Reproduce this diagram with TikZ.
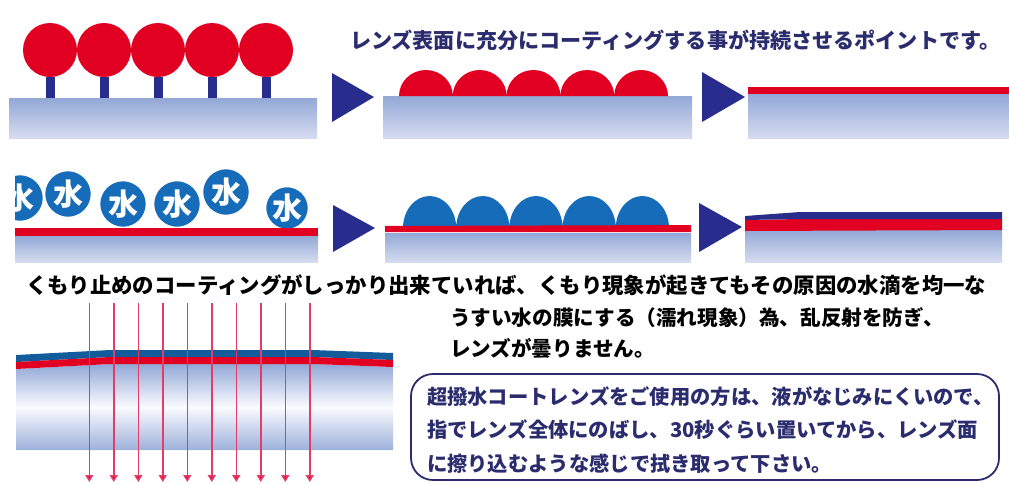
\documentclass[tikz,border=0pt]{standalone}
\usepackage{fontspec}
\setmainfont{Noto Sans CJK JP}
\usepackage{tikz}
\usetikzlibrary{arrows.meta,positioning,calc}
\definecolor{coatred}{RGB}{226,0,34}
\definecolor{coatnavy}{RGB}{40,44,140}
\definecolor{waterblue}{RGB}{22,108,184}
\definecolor{lenstop}{RGB}{146,168,214}
\definecolor{lensbottom}{RGB}{214,220,240}
\definecolor{lensmid}{RGB}{250,251,255}
\definecolor{textnavy}{RGB}{42,44,110}
\definecolor{raypink}{RGB}{228,60,105}

\begin{document}
\begin{tikzpicture}[
  x=1pt, y=1pt,
  every node/.style={inner sep=0pt, outer sep=0pt},
  slab/.style={rectangle, top color=lenstop, bottom color=lensbottom, anchor=north west},
  drop/.style={circle, fill=coatred, minimum size=54pt},
  water/.style={circle, fill=waterblue, draw=white, line width=1.5pt, minimum size=47pt,
                text=white, font=\bfseries\fontsize{30}{30}\selectfont},
  pointer/.style={fill=coatnavy},
  ray/.style={draw=raypink, line width=1.6pt,
              -{Triangle[width=8pt, length=7pt, fill=coatred]}},
]
\useasboundingbox (0,0) rectangle (1009,-483);

% Headline
\node[anchor=west, text=textnavy, font=\bfseries\fontsize{21.1}{24}\selectfont] (headline)
      at (350,-40) {レンズ表面に充分にコーティングする事が持続させるポイントです。};

% Row 1, left: coating molecules standing on the lens
\node[slab, minimum width=308pt, minimum height=40pt] (slabA) at (9,-98) {};
\node[drop] (m1) at (50,-50) {};
\node[drop] (m2) at (104,-50) {};
\node[drop] (m3) at (158,-50) {};
\node[drop] (m4) at (212,-50) {};
\node[drop] (m5) at (266,-50) {};
\fill[coatnavy] ($(m1.south)+(-4.5,0)$) rectangle ($(m1.south |- slabA.north)+(4.5,0)$);
\fill[coatnavy] ($(m2.south)+(-4.5,0)$) rectangle ($(m2.south |- slabA.north)+(4.5,0)$);
\fill[coatnavy] ($(m3.south)+(-4.5,0)$) rectangle ($(m3.south |- slabA.north)+(4.5,0)$);
\fill[coatnavy] ($(m4.south)+(-4.5,0)$) rectangle ($(m4.south |- slabA.north)+(4.5,0)$);
\fill[coatnavy] ($(m5.south)+(-4.5,0)$) rectangle ($(m5.south |- slabA.north)+(4.5,0)$);

\fill[pointer] (332,-73) -- (374,-97) -- (332,-122) -- cycle;

% Row 1, middle: molecules spread out
\node[slab, minimum width=309pt, minimum height=42pt] (slabB) at (383,-96) {};
\fill[coatred] ($(slabB.north west)+(16,0)$)
  arc[start angle=180, end angle=0, x radius=26.9, y radius=26]
  arc[start angle=180, end angle=0, x radius=26.9, y radius=26]
  arc[start angle=180, end angle=0, x radius=26.9, y radius=26]
  arc[start angle=180, end angle=0, x radius=26.9, y radius=26]
  arc[start angle=180, end angle=0, x radius=26.9, y radius=26] -- cycle;

\fill[pointer] (702,-72) -- (745,-97) -- (702,-122) -- cycle;

% Row 1, right: even coating film
\node[slab, minimum width=261pt, minimum height=44pt] (slabC) at (748,-94) {};
\fill[coatred] (slabC.north west) rectangle ($(slabC.north east)+(0,7)$);

% Row 2, left: water drops on the coating
\node[slab, minimum width=303pt, minimum height=26pt] (slabD) at (15,-236) {};
\begin{scope}
  \clip (15,-150) rectangle (330,-240);
  \node[water] (w1) at (20,-198) {水};
  \node[water] (w2) at (68,-194) {水};
  \node[water] (w3) at (123,-204) {水};
  \node[water] (w4) at (177,-204) {水};
  \node[water] (w5) at (226,-192) {水};
  \node[water, minimum size=43pt] (w6) at (287,-208) {水};
\end{scope}
\fill[coatred] (slabD.north west) rectangle ($(slabD.north east)+(0,8)$);

\fill[pointer] (333,-205) -- (375,-228) -- (333,-252) -- cycle;

% Row 2, middle: drops flatten out
\node[slab, minimum width=306pt, minimum height=29pt] (slabE) at (385,-233) {};
\fill[waterblue] ($(slabE.north west)+(18,5)$)
  arc[start angle=180, end angle=0, x radius=26.6, y radius=32]
  arc[start angle=180, end angle=0, x radius=26.6, y radius=32]
  arc[start angle=180, end angle=0, x radius=26.6, y radius=32]
  arc[start angle=180, end angle=0, x radius=26.6, y radius=32]
  arc[start angle=180, end angle=0, x radius=26.6, y radius=32] -- cycle;
\fill[coatred] ($(slabE.north west)+(0,1)$) -- ($(slabE.north west)+(0,7)$)
  -- ($(slabE.north east)+(0,8)$) -- ($(slabE.north east)+(0,1)$) -- cycle;

\fill[pointer] (699,-203) -- (742,-227) -- (699,-252) -- cycle;

% Row 2, right: thin water film over the coating
\node[slab, minimum width=257pt, minimum height=32pt] (slabF) at (745,-230) {};
\fill[coatred] (745,-220) -- (800,-219) -- (1002,-219) -- (1002,-230) -- (745,-231) -- cycle;
\fill[coatnavy] (745,-216) -- (800,-212) -- (1002,-212) -- (1002,-219) -- (800,-219)
  -- (745,-220) -- cycle;

% Explanation
\node[anchor=west, font=\bfseries\fontsize{21.4}{25}\selectfont] (fogline1) at (26,-285)
      {くもり止めのコーティングがしっかり出来ていれば、くもり現象が起きてもその原因の水滴を均一な};
\node[anchor=west, font=\bfseries\fontsize{20.6}{25}\selectfont] (fogline2) at (450,-318)
      {うすい水の膜にする（濡れ現象）為、乱反射を防ぎ、};
\node[anchor=west, font=\bfseries\fontsize{20.6}{25}\selectfont] (fogline3) at (450,-348)
      {レンズが曇りません。};

% Lens cross-section with light passing through
\shade[top color=lenstop, bottom color=lenstop!90, middle color=lensmid]
  (16,-369) -- (110,-364) -- (313,-364) -- (393,-367) -- (393,-450) -- (16,-450) -- cycle;
\fill[waterblue!85!black] (16,-355) -- (110,-350) -- (313,-350) -- (393,-353)
  -- (393,-360) -- (313,-357) -- (110,-357) -- (16,-362) -- cycle;
\fill[coatred] (16,-362) -- (110,-357) -- (313,-357) -- (393,-360)
  -- (393,-367) -- (313,-364) -- (110,-364) -- (16,-369) -- cycle;
\draw[ray] (89.3,-303) -- (89.3,-482);
\draw[ray] (113.8,-303) -- (113.8,-482);
\draw[ray] (138.3,-303) -- (138.3,-482);
\draw[ray] (162.8,-303) -- (162.8,-482);
\draw[ray] (187.3,-303) -- (187.3,-482);
\draw[ray] (211.8,-303) -- (211.8,-482);
\draw[ray] (236.3,-303) -- (236.3,-482);
\draw[ray] (260.8,-303) -- (260.8,-482);
\draw[ray] (285.3,-303) -- (285.3,-482);
\draw[ray] (309.8,-303) -- (309.8,-482);

% Note box
\node[draw=textnavy, line width=1.8pt, rounded corners=22pt, anchor=north west,
      minimum width=588pt, minimum height=106pt] (tipbox) at (411,-374) {};
\node[anchor=west, align=left, text=textnavy, font=\bfseries\fontsize{20.3}{33.5}\selectfont]
      (tiptext) at ($(tipbox.west)+(16,-3)$)
      {超撥水コートレンズをご使用の方は、液がなじみにくいので、\\
       指でレンズ全体にのばし、30秒ぐらい置いてから、レンズ面\\
       に擦り込むような感じで拭き取って下さい。};
\end{tikzpicture}
\end{document}
